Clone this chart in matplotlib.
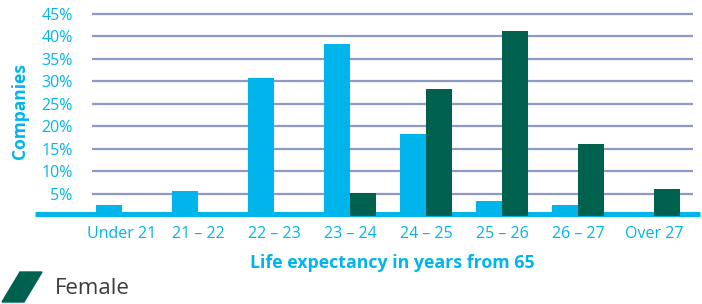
import matplotlib.pyplot as plt
from matplotlib.patches import Polygon

categories = ["Under 21", "21 – 22", "22 – 23", "23 – 24", "24 – 25", "25 – 26", "26 – 27", "Over 27"]
male = [2.4, 5.6, 30.7, 38.4, 18.2, 3.3, 2.4, 0]
female = [0, 0, 0, 5.1, 28.2, 41.3, 16.0, 6.0]
yticks = [5, 10, 15, 20, 25, 30, 35, 40, 45]

cyan = "#00B5EC"
green = "#00614F"
grid_col = "#8E9AC6"

plt.rcParams['font.family'] = ['Open Sans', 'DejaVu Sans']

fig = plt.figure(figsize=(7.02, 3.04), dpi=100)
ax = fig.add_axes([92 / 702, 0.2895, (693 - 92) / 702, 0.679])

x = list(range(len(categories)))
w = 0.34
ax.bar([i - w / 2 for i in x], male, width=w, color=cyan, zorder=3)
ax.bar([i + w / 2 for i in x], female, width=w, color=green, zorder=3)

for y in yticks:
    ax.axhline(y, color=grid_col, lw=1.6, zorder=1)
# thick baseline running out to the left
ax.plot([-1.15, 7.6], [0.5, 0.5], color=cyan, lw=3.6, zorder=2, clip_on=False,
        solid_capstyle='butt')

ax.set_xlim(-0.395, 7.51)
ax.set_ylim(0, 46)
ax.set_yticks(yticks)
ax.set_yticklabels([f"{v}%" for v in yticks])
ax.set_xticks(x)
ax.set_xticklabels(categories)
ax.tick_params(length=0, colors=cyan, labelsize=11.5)
ax.tick_params(axis='y', pad=14)
ax.tick_params(axis='x', pad=7)
for s in ax.spines.values():
    s.set_visible(False)

ax.set_xlabel("Life expectancy in years from 65", color=cyan, fontsize=12.8,
              fontweight='bold', labelpad=9)
fig.text(20 / 702, 1 - 111 / 304, "Companies", color=cyan, fontsize=12.5,
         fontweight='bold', rotation=90, ha='center', va='center')

# legend
pts = [(2, 302), (24, 302), (42, 272), (20, 272)]
fig.patches.append(Polygon([(px / 702, 1 - py / 304) for px, py in pts],
                           closed=True, color=green, transform=fig.transFigure))
fig.text(55 / 702, 1 - 288 / 304, "Female", color="#3C3C3C", fontsize=16,
         ha='left', va='center')

fig.savefig("out.png", dpi=100)
